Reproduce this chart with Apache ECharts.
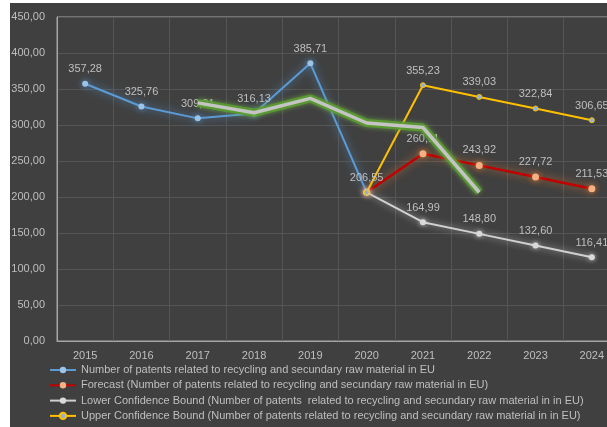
<!DOCTYPE html>
<html>
<head>
	<meta charset="UTF-8">
	<title>Patents recycling EU</title>
	<script src="https://cdn.jsdelivr.net/npm/echarts@6/dist/echarts.min.js"></script>
	<style>
		body { margin: 0; background: #ffffff; }
		#main { position: absolute; left: 10px; top: 3px; width: 597px; height: 424px; }
	</style>
</head>
<body>
	<div id="main"></div>
	<script>
		// data
		var years = ['2015', '2016', '2017', '2018', '2019', '2020', '2021', '2022', '2023', '2024'];
		var actual = [357.28, 325.76, 309.21, 316.13, 385.71, 206.55, null, null, null, null];
		var forecast = [null, null, null, null, null, 206.55, 260.11, 243.92, 227.72, 211.53];
		var lower = [null, null, null, null, null, 206.55, 164.99, 148.80, 132.60, 116.41];
		var upper = [null, null, null, null, null, 206.55, 355.23, 339.03, 322.84, 306.65];
		var trend = [null, null, 330.7, 317.0, 337.0, 302.8, 296.5, 206.6, null, null]; // moving average (green)
		var yTicks = [0, 50, 100, 150, 200, 250, 300, 350, 400, 450];

		var names = [
			'Number of patents related to recycling and secundary raw material in EU',
			'Forecast (Number of patents related to recycling and secundary raw material in EU)',
			'Lower Confidence Bound (Number of patents  related to recycling and secundary raw material in in EU)',
			'Upper Confidence Bound (Number of patents related to recycling and secundary raw material in in EU)'
		];

		var txt = '#bfbfbf';
		var font = 'Liberation Sans';

		function fmt(v) { return Number(v).toFixed(2).replace('.', ','); }

		function lbl(skipFirst) {
			return {
				show: true, position: 'top', distance: 6, color: txt, fontFamily: font, fontSize: 11,
				formatter: function (p) {
					if (p.value == null) return '';
					if (skipFirst && p.dataIndex === 5) return '';
					return fmt(p.value);
				}
			};
		}

		var chart = echarts.init(document.getElementById('main'));
		chart.setOption({
			backgroundColor: '#404040',
			animation: false,
			grid: {
				left: 47, top: 14, width: 563, height: 324, outerBoundsMode: 'none', containLabel: false,
				show: true, borderColor: '#a6a6a6', borderWidth: 1
			},
			legend: {
				data: names, orient: 'vertical', left: 39, top: 361, padding: 0,
				itemWidth: 26, itemHeight: 8, itemGap: 3.3,
				textStyle: { color: txt, fontFamily: font, fontSize: 11, lineHeight: 12 }
			},
			xAxis: {
				type: 'category', data: years, boundaryGap: true,
				axisLine: { lineStyle: { color: '#a6a6a6' } },
				axisTick: { show: false },
				axisLabel: { color: txt, fontFamily: font, fontSize: 11, margin: 9 },
				splitLine: { show: true, lineStyle: { color: '#555555' } }
			},
			yAxis: {
				type: 'value', min: yTicks[0], max: yTicks[yTicks.length - 1], interval: 50,
				axisLine: { show: true, lineStyle: { color: '#a6a6a6' } },
				axisTick: { show: false },
				axisLabel: { color: txt, fontFamily: font, fontSize: 11, margin: 12, formatter: fmt },
				splitLine: { lineStyle: { color: '#555555' } }
			},
			series: [
				{
					name: names[0], type: 'line', data: actual, symbol: 'circle', symbolSize: 6,
					lineStyle: { color: '#5b9bd5', width: 2, shadowColor: 'rgba(91,155,213,0.9)', shadowBlur: 8 },
					itemStyle: { color: '#9dc3e6', shadowColor: 'rgba(91,155,213,0.9)', shadowBlur: 6 },
					label: lbl(false)
				},
				{
					name: names[1], type: 'line', data: forecast, symbol: 'circle', symbolSize: 7,
					lineStyle: { color: '#c00000', width: 2.5, shadowColor: 'rgba(237,125,49,0.8)', shadowBlur: 9 },
					itemStyle: { color: '#f4b183', shadowColor: 'rgba(237,125,49,0.9)', shadowBlur: 6 },
					label: lbl(true)
				},
				{
					name: names[2], type: 'line', data: lower, symbol: 'circle', symbolSize: 6,
					lineStyle: { color: '#d0d0d0', width: 2, shadowColor: 'rgba(255,255,255,0.6)', shadowBlur: 7 },
					itemStyle: { color: '#d9d9d9', shadowColor: 'rgba(255,255,255,0.7)', shadowBlur: 5 },
					label: lbl(true)
				},
				{
					name: names[3], type: 'line', data: upper, symbol: 'circle', symbolSize: 5,
					lineStyle: { color: '#ffc000', width: 2 },
					itemStyle: { color: '#8fb4d9', borderColor: '#ffc000', borderWidth: 1 },
					label: lbl(true)
				},
				{
					name: 'trend glow', type: 'line', data: trend, symbol: 'none', silent: true,
					lineStyle: { color: '#5a9e2f', width: 8, opacity: 0.85, shadowColor: 'rgba(112,173,71,0.9)', shadowBlur: 5 },
					z: 5
				},
				{
					name: 'trend core', type: 'line', data: trend, symbol: 'none', silent: true,
					lineStyle: { color: '#c4c4c4', width: 3.5 },
					z: 6
				}
			]
		});
	</script>
</body>
</html>
